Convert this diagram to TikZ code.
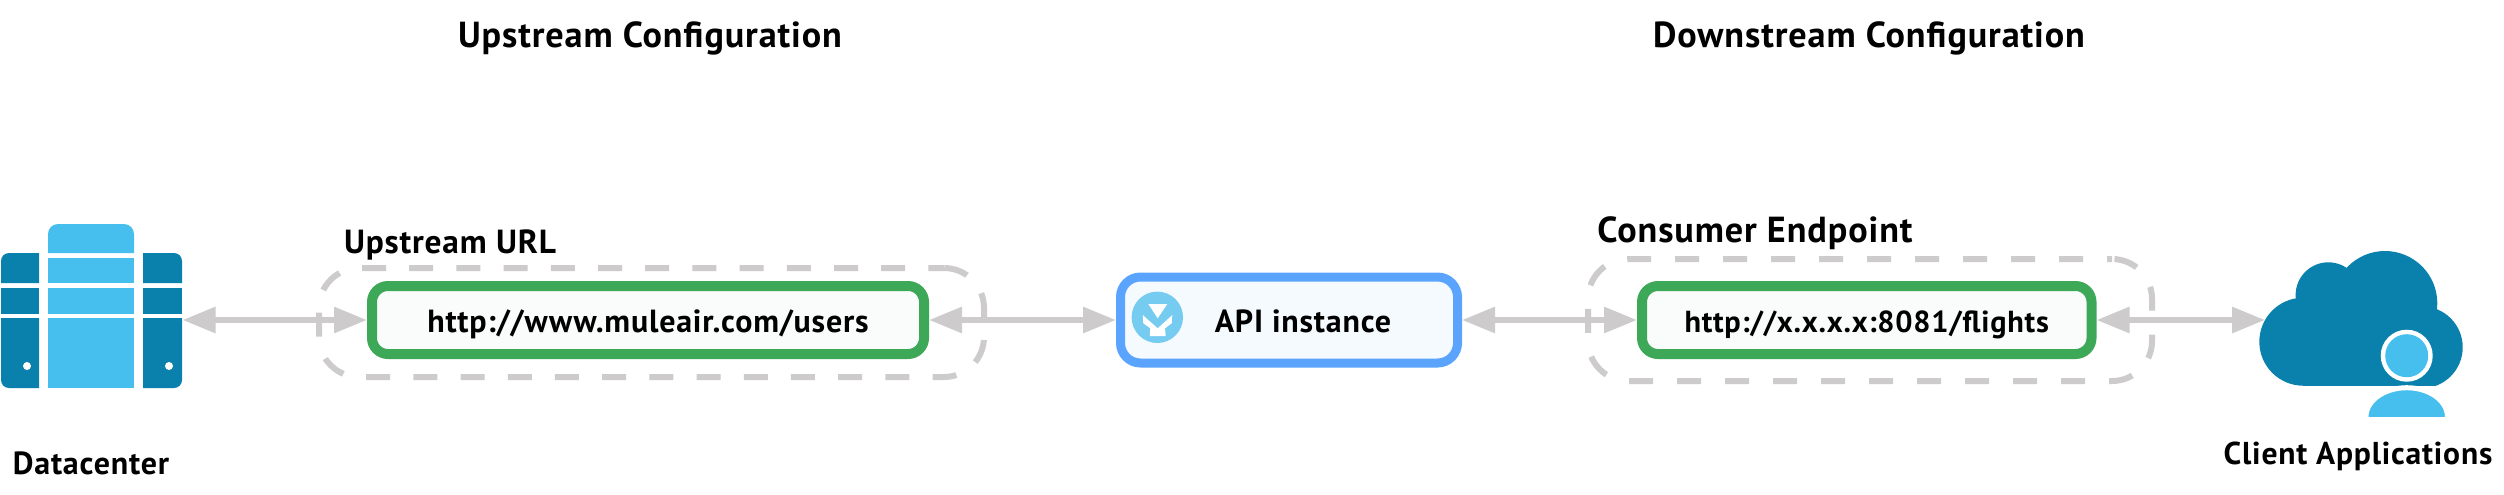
\documentclass[tikz,border=0pt]{standalone}
\usepackage{fontspec}
\setmainfont{PT Sans}[LetterSpace=2.5]
\usetikzlibrary{arrows.meta,positioning}

\definecolor{linkgray}{HTML}{CDCBCC}
\definecolor{boxgreen}{HTML}{3DA858}
\definecolor{boxblue}{HTML}{5BA4FE}
\definecolor{darkteal}{HTML}{0A80AD}
\definecolor{lightsky}{HTML}{47BFEE}
\definecolor{logosky}{HTML}{75CBF0}

\newcommand{\pxfont}[1]{\bfseries\fontsize{#1pt}{20pt}\selectfont}

\tikzset{
    caption/.style = {font=\pxfont{18.1}, anchor=base, inner sep=0pt},
    urlbox/.style = {draw=boxgreen, line width=5pt, fill=white!97!boxgreen, rounded corners=8pt,
        minimum height=34pt, text height=16pt, text depth=4pt, inner sep=0pt, font=\pxfont{16}},
    apibox/.style = {draw=boxblue, line width=4.5pt, fill=boxblue!6, rounded corners=10pt,
        minimum width=168.5pt, minimum height=43pt, text height=16pt, text depth=4pt, inner sep=0pt,
        font=\pxfont{16}},
    dashbox/.style = {draw=linkgray, line width=3pt, dash pattern=on 12pt off 12pt,
        rounded corners=20pt, inner sep=0pt},
    link/.style = {<->, draw=linkgray, line width=3pt},
    iconspot/.style = {inner sep=0pt, outer sep=0pt}
}

\begin{document}
\begin{tikzpicture}[
    x = 0.5pt, y = -0.5pt, % one unit is one pixel of the image
    > = {Triangle[length=16.5pt,width=12.5pt]} % arrow head style
    ]
    \useasboundingbox (0,0) rectangle (2504,494);

    % titles
    \node[caption] (uptitle) at (650,47) {Upstream Configuration};
    \node[caption] (downtitle) at (1869,47) {Downstream Configuration};
    \node[caption, font=\pxfont{16.7}] (upurllabel) at (450,253) {Upstream URL};
    \node[caption] (consumerlabel) at (1755,242) {Consumer Endpoint};
    \node[caption, font=\pxfont{16}] (dclabel) at (91,474) {Datacenter};
    \node[caption, font=\pxfont{15.8}] (clientlabel) at (2358,464) {Client Applications};

    % dashed outlines
    \node[dashbox, dash pattern=on 12pt off 11.6pt, dash phase=4.2pt, minimum width=332.5pt, minimum height=54.5pt] (updash) at (651.5,322.5) {};
    \node[dashbox, dash phase=9.6pt, minimum width=282pt, minimum height=61pt] (downdash) at (1870,320) {};

    % boxes
    \node[apibox] (api) at (1289,320) {\hspace*{14pt}API instance};
    \node[urlbox, minimum width=276pt, left=93.5pt of api] (upurl) {http://www.muleair.com/users};
    \node[urlbox, font=\pxfont{15.2}, minimum width=224.75pt, right=87.5pt of api] (downurl) {http://x.x.x.x:8081/flights};

    % icon spots, the connectors end on them
    \node[iconspot, minimum width=91pt, minimum height=20pt] (datacenter) at (91.5,320) {};
    \coordinate (client) at (2265,320);

    % connectors
    \draw[link] (datacenter.east) -- (upurl.west);
    \draw[link] (upurl.east) -- (api.west);
    \draw[link] (api.east) -- (downurl.west);
    \draw[link] (downurl.east) -- (client);

    % datacenter icon
    \fill[darkteal] (1,283) -- (1,261) arc (180:270:8) -- (39,253) -- (39,283) -- cycle;
    \fill[darkteal] (1,288) rectangle (39,314);
    \fill[darkteal] (1,318) -- (1,380) arc (180:90:8) -- (39,388) -- (39,318) -- cycle;
    \fill[darkteal] (143,253) -- (174,253) arc (270:360:8) -- (182,283) -- (143,283) -- cycle;
    \fill[darkteal] (143,288) rectangle (182,314);
    \fill[darkteal] (143,318) -- (182,318) -- (182,380) arc (0:90:8) -- (143,388) -- cycle;
    \fill[lightsky] (48,253) -- (48,234) arc (180:270:10) -- (124,224) arc (270:360:10) -- (134,253) -- cycle;
    \fill[lightsky] (48,258) rectangle (134,283);
    \fill[lightsky] (48,288) rectangle (134,314);
    \fill[lightsky] (48,318) rectangle (134,388);
    \fill[white] (27,366) circle (4) (169,366) circle (4);

    % client icon
    \begin{scope}
        \clip (2250,250) rectangle (2470,385.7);
        \foreach \cx/\cy/\cr in {2303.3/341.7/44, 2328.3/295/32.7, 2385/303.3/52.3, 2421.7/347.3/41}
            \fill[darkteal] (\cx,\cy) circle (\cr);
        \fill[darkteal] (2303,310) rectangle (2425,385.7);
    \end{scope}
    \begin{scope}
        \clip (2360,380) rectangle (2450,416.7);
        \fill[lightsky, draw=white, line width=2.5pt] (2406.7,416.7) ellipse [x radius=40.7, y radius=29];
    \end{scope}
    \fill[white] (2406.7,355.7) circle (26);
    \fill[lightsky] (2406.7,355.7) circle (21.5);

    % logo of the api box
    \fill[logosky] (1157.3,317.3) circle (25.7);
    \fill[white] (1148.3,304) -- (1167.3,304) -- (1157.7,318.3) -- cycle;
    \fill[white] (1142.7,315) -- (1157.7,328.3) -- (1172.3,315) -- (1171.7,323.3) -- (1165,328.3)
        -- (1165.7,336) -- (1149.7,336) -- (1150.3,328.3) -- (1143.3,323.3) -- cycle;
\end{tikzpicture}
\end{document}
